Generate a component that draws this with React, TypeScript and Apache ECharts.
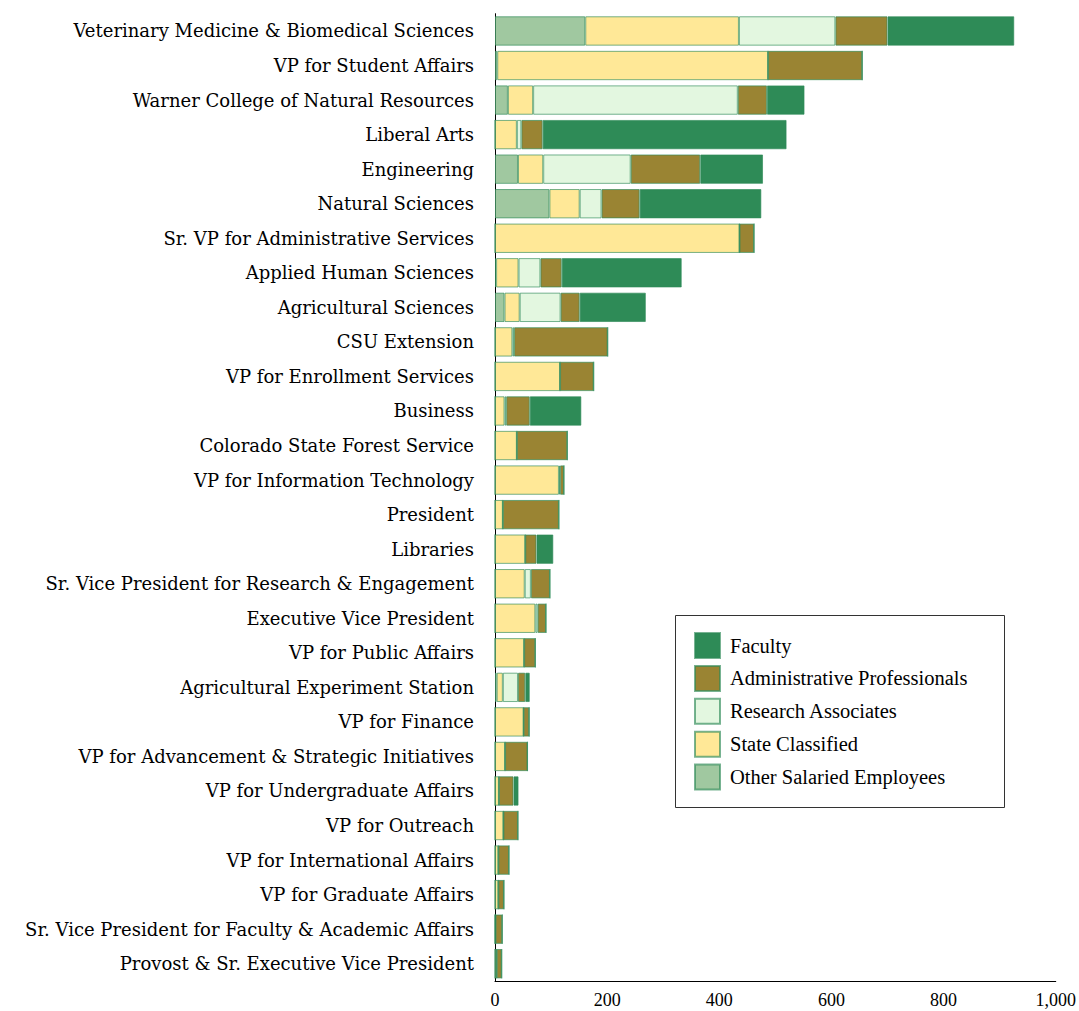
import React, { useEffect, useRef } from "react";
import * as echarts from "echarts";

const categories = [
  "Veterinary Medicine & Biomedical Sciences",
  "VP for Student Affairs",
  "Warner College of Natural Resources",
  "Liberal Arts",
  "Engineering",
  "Natural Sciences",
  "Sr. VP for Administrative Services",
  "Applied Human Sciences",
  "Agricultural Sciences",
  "CSU Extension",
  "VP for Enrollment Services",
  "Business",
  "Colorado State Forest Service",
  "VP for Information Technology",
  "President",
  "Libraries",
  "Sr. Vice President for Research & Engagement",
  "Executive Vice President",
  "VP for Public Affairs",
  "Agricultural Experiment Station",
  "VP for Finance",
  "VP for Advancement & Strategic Initiatives",
  "VP for Undergraduate Affairs",
  "VP for Outreach",
  "VP for International Affairs",
  "VP for Graduate Affairs",
  "Sr. Vice President for Faculty & Academic Affairs",
  "Provost & Sr. Executive Vice President",
];

const otherSalaried = [161, 4, 23, 0, 41, 97, 0, 2, 17, 0, 0, 0, 0, 0, 0, 0, 0, 0, 0, 3, 0, 0, 0, 0, 0, 0, 0, 0];
const stateClassified = [274, 483, 45, 39, 45, 54, 436, 40, 27, 31, 116, 17, 39, 114, 14, 54, 53, 72, 52, 11, 51, 18, 7, 15, 6, 6, 1, 3];
const researchAssociates = [172, 0, 365, 8, 156, 39, 0, 39, 73, 3, 0, 3, 0, 2, 0, 0, 11, 4, 0, 27, 0, 0, 0, 0, 0, 0, 0, 0];
const adminProfessionals = [93, 168, 52, 38, 124, 68, 26, 38, 34, 167, 60, 42, 90, 7, 100, 20, 34, 15, 20, 13, 10, 40, 26, 26, 19, 10, 12, 9];
const faculty = [226, 0, 67, 435, 112, 217, 0, 214, 118, 0, 0, 92, 0, 0, 0, 30, 0, 0, 0, 8, 0, 0, 9, 0, 0, 0, 0, 0];

const xTicks = { min: 0, max: 1000, interval: 200 };

const seriesDefs = [
  { name: "Other Salaried Employees", data: otherSalaried, color: "#A0C8A0" },
  { name: "State Classified", data: stateClassified, color: "#FFE897" },
  { name: "Research Associates", data: researchAssociates, color: "#E3F7E0" },
  { name: "Administrative Professionals", data: adminProfessionals, color: "#9A8433" },
  { name: "Faculty", data: faculty, color: "#2E8B57" },
];

const legendOrder = [
  "Faculty",
  "Administrative Professionals",
  "Research Associates",
  "State Classified",
  "Other Salaried Employees",
];

const SERIF = "'Liberation Serif', 'Times New Roman', serif";
const LABEL_SERIF = "'DejaVu Serif', serif";

export default function App() {
  const ref = useRef<HTMLDivElement>(null);
  useEffect(() => {
    if (!ref.current) return;
    const chart = echarts.init(ref.current, null, { renderer: "svg" });
    chart.setOption({
      animation: false,
      backgroundColor: "#fff",
      grid: { left: 495, right: 22, top: 13.7, bottom: 30, containLabel: false },
      xAxis: {
        type: "value",
        min: xTicks.min,
        max: xTicks.max,
        interval: xTicks.interval,
        splitLine: { show: false },
        axisTick: { show: false },
        axisLine: { show: true, lineStyle: { color: "#000", width: 1 } },
        axisLabel: {
          margin: 10,
          fontFamily: SERIF,
          fontSize: 18,
          color: "#000",
          formatter: (v: number) => v.toLocaleString("en-US"),
        },
      },
      yAxis: {
        type: "category",
        inverse: true,
        data: categories,
        axisTick: { show: false },
        axisLine: { show: true, lineStyle: { color: "#000", width: 1 } },
        axisLabel: {
          margin: 21,
          fontFamily: LABEL_SERIF,
          fontSize: 18,
          color: "#000",
        },
      },
      legend: {
        orient: "vertical",
        left: 694,
        top: 632,
        padding: 0,
        itemWidth: 25,
        itemHeight: 25,
        itemGap: 5.9,
        icon: "rect",
        data: legendOrder,
        textStyle: {
          fontFamily: SERIF,
          fontSize: 20.5,
          lineHeight: 25,
          color: "#000",
          padding: [0, 0, 0, 5],
        },
      },
      graphic: [
        {
          type: "rect",
          z: 3,
          shape: { x: 675.5, y: 615.5, width: 329, height: 192 },
          style: { fill: "#fff", stroke: "#333", lineWidth: 1 },
        },
      ],
      series: seriesDefs.map((s) => ({
        name: s.name,
        type: "bar",
        stack: "total",
        barCategoryGap: "15%",
        data: s.data,
        itemStyle: {
          color: s.color,
          borderColor: "rgba(46,139,87,0.65)",
          borderWidth: 1,
        },
        emphasis: { disabled: true },
      })),
    });
    return () => chart.dispose();
  }, []);
  return (
    <div
      ref={ref}
      style={{ position: "fixed", left: 0, top: 0, width: 1079, height: 1011 }}
    />
  );
}
